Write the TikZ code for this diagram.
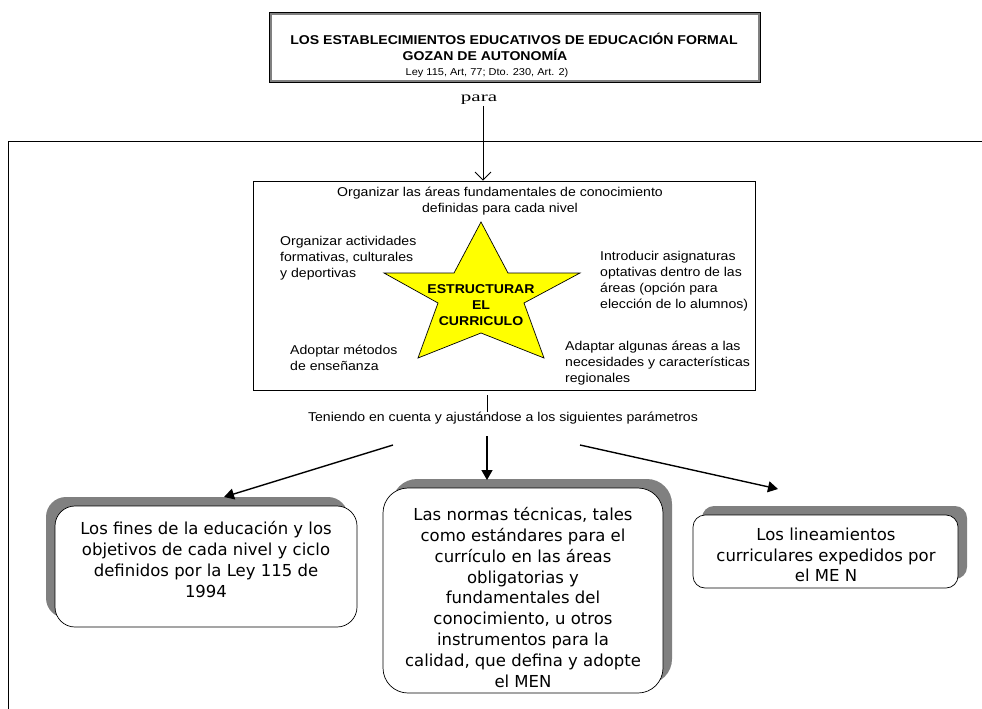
\documentclass[tikz,border=0pt]{standalone}
\usepackage{fontspec}
\newfontfamily\arialf{Liberation Sans}[FakeStretch=1.1]
\newfontfamily\verdanaf{DejaVu Sans}
\newfontfamily\timesf{Liberation Serif}
\usetikzlibrary{arrows.meta,shadows}
\definecolor{sombra}{RGB}{128,128,128}
\definecolor{amarillo}{RGB}{255,255,0}
\tikzset{
	texto/.style={font=\arialf\fontsize{12.8}{16}\selectfont, inner sep=0pt, align=left},
	negrita/.style={font=\arialf\bfseries\fontsize{12.8}{16}\selectfont, inner sep=0pt, align=center},
	cuadro/.style={draw, fill=white, line width=0.7pt, rounded corners=#1, inner sep=0pt},
	cuadrotexto/.style={font=\verdanaf\fontsize{16.5}{20.8}\selectfont, inner sep=0pt, align=center},
	sombraizq/.style={drop shadow={shadow xshift=-9pt, shadow yshift=9pt, fill=sombra, opacity=1}},
	sombrader/.style={drop shadow={shadow xshift=9pt, shadow yshift=9pt, fill=sombra, opacity=1}},
	flecha/.style={line width=1.4pt, -{Triangle[length=10pt,width=11pt]}}
}
\begin{document}
\begin{tikzpicture}[x=1pt,y=-1pt]
	\useasboundingbox (0,0) rectangle (982,709);
	
	\node[draw, double=sombra, double distance=2pt, line width=0.7pt, minimum width=488.6pt, minimum height=67.6pt, inner sep=0pt] (ley) at (515,47.5) {};
	\node[negrita] (establecimientos) at (514,39) {LOS ESTABLECIMIENTOS EDUCATIVOS DE EDUCACIÓN FORMAL};
	\node[negrita] (gozan) at (485,55) {GOZAN DE AUTONOMÍA};
	\node[texto, font=\arialf\fontsize{10}{12}\selectfont] (articulo) at (487,73) {Ley 115, Art, 77; Dto. 230, Art. 2)};
	\node[font=\timesf\fontsize{14}{16}\selectfont, xscale=1.5, inner sep=1pt] (para) at (479,100) {para};
	
	\draw[line width=0.8pt] (8,709) |- (982,141);
	
	\node[draw, line width=0.7pt, minimum width=502pt, minimum height=209pt, inner sep=0pt] (curriculo) at (504,285.5) {};
	\draw[line width=0.9pt, -{Straight Barb[length=8pt,width=16pt]}] (para.south -| 483,0) -- (curriculo.north -| 483,0);
	
	\draw[line width=0.7pt, fill=amarillo] (481,222) -- (508,273) -- (580,273) -- (524,303) -- (544,358) -- (481,333) -- (418,358) -- (438,303) -- (384,273) -- (454,273) -- cycle;
	\node[negrita] (estructurar) at (481,305) {ESTRUCTURAR\\EL\\CURRICULO};
	
	\node[texto, align=center] (areas) at (500,201.5) {Organizar las áreas fundamentales de conocimiento\\definidas para cada nivel};
	\node[texto, anchor=west] (actividades) at (280,258) {Organizar actividades\\formativas, culturales\\y deportivas};
	\node[texto, anchor=west] (asignaturas) at (600,281.5) {Introducir asignaturas\\optativas dentro de las\\áreas (opción para\\elección de lo alumnos)};
	\node[texto, anchor=west] (metodos) at (290,358) {Adoptar métodos\\de enseñanza};
	\node[texto, anchor=west] (adaptar) at (565,363) {Adaptar algunas áreas a las\\necesidades y características\\regionales};
	
	\node[texto] (teniendo) at (503,418) {Teniendo en cuenta y ajustándose a los siguientes parámetros};
	\coordinate (enlace) at (487,395);
	\draw[line width=0.8pt] (enlace) -- (enlace |- teniendo.north);
	
	\node[cuadro=20pt, sombraizq, minimum width=302pt, minimum height=121pt] (fines) at (206,566.5) {};
	\node[cuadrotexto] (finestexto) at (206,559.5) {Los fines de la educación y los\\objetivos de cada nivel y ciclo\\definidos por la Ley 115 de\\1994};
	
	\node[cuadro=25pt, sombrader, minimum width=280pt, minimum height=205pt] (normas) at (523,590.5) {};
	\node[cuadrotexto] (normastexto) at (523,597.5) {Las normas técnicas, tales\\como estándares para el\\currículo en las áreas\\obligatorias y\\fundamentales del\\conocimiento, u otros\\instrumentos para la\\calidad, que defina y adopte\\el MEN};
	
	\node[cuadro=12pt, sombrader, minimum width=265pt, minimum height=73pt] (lineamientos) at (825.5,551.5) {};
	\node[cuadrotexto] (lineamientostexto) at (826,555) {Los lineamientos\\curriculares expedidos por\\el ME N};
	
	\coordinate (salidaizq) at (393,445);
	\coordinate (llegadaizq) at (224,497);
	\coordinate (salidacen) at (487,436);
	\coordinate (llegadacen) at (487,480);
	\coordinate (salidader) at (580,445);
	\coordinate (llegadader) at (778,489);
	\draw[flecha] (salidaizq) -- (llegadaizq);
	\draw[flecha] (salidacen) -- (llegadacen);
	\draw[flecha] (salidader) -- (llegadader);
\end{tikzpicture}
\end{document}
